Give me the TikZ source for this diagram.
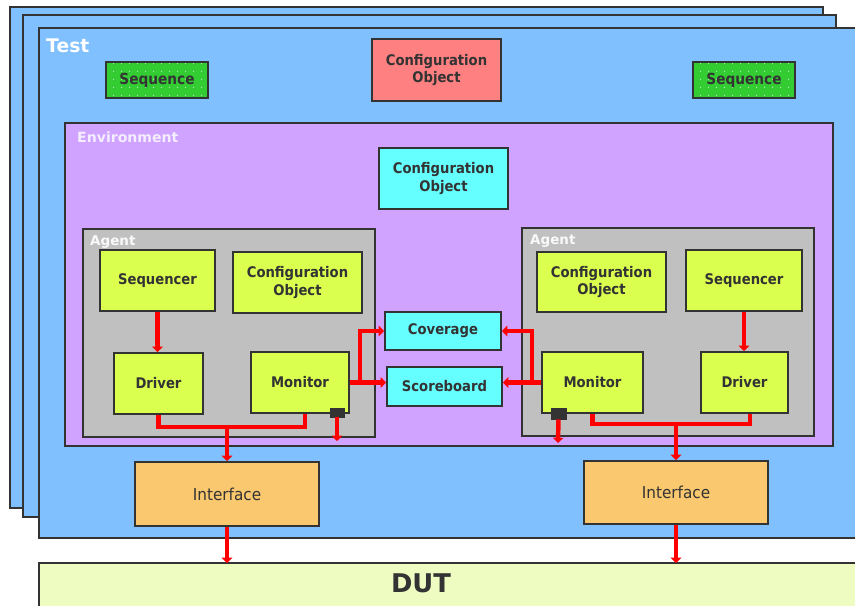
\documentclass[tikz,border=0pt]{standalone}
\usepackage{fontspec}
\setmainfont{DejaVu Sans}
\newfontfamily\labelfont{DejaVu Sans}[FakeStretch=0.9]
\newfontfamily\ifacefont{DejaVu Sans}[FakeStretch=0.93]
\usetikzlibrary{arrows.meta,patterns.meta}

\definecolor{testblue}{HTML}{80C0FF}
\definecolor{envpurple}{HTML}{CFA3FF}
\definecolor{agentgray}{HTML}{C0C0C0}
\definecolor{limefill}{HTML}{DAFF4F}
\definecolor{cyanfill}{HTML}{66FFFF}
\definecolor{cfgred}{HTML}{FF8080}
\definecolor{seqgreen}{HTML}{33CC33}
\definecolor{ifaceorange}{HTML}{F9C86F}
\definecolor{dutfill}{HTML}{EEFCC2}
\definecolor{edge}{HTML}{333333}
\definecolor{wire}{HTML}{FF0000}
\definecolor{lighttext}{HTML}{F4EEFF}

\begin{document}
\begin{tikzpicture}[x=0.03cm, y=-0.03cm,
  frame/.style={draw=edge, line width=1.7pt},
  % box given by its left, top, right and bottom edges
  spanbox/.style n args={4}{minimum width={(#3-#1)*0.03cm},
    minimum height={(#4-#2)*0.03cm}, at={({(#1+#3)/2},{(#2+#4)/2})}},
  block/.style={draw=edge, line width=1.7pt, inner sep=0pt, text=edge,
    font=\labelfont\bfseries\fontsize{12.5}{15}\selectfont, align=center},
  lime/.style={block, fill=limefill},
  cyanbox/.style={block, fill=cyanfill},
  redbox/.style={block, fill=cfgred},
  seqbox/.style={block, preaction={fill=seqgreen},
    preaction={pattern={Dots[distance=6.5pt, radius=0.5pt]}, pattern color=white!90!seqgreen},
    font=\labelfont\bfseries\fontsize{13}{15}\selectfont},
  iface/.style={block, fill=ifaceorange, font=\ifacefont\fontsize{14}{16}\selectfont},
  stub/.style={draw=edge, fill=edge, inner sep=0pt, line width=0.6pt},
  title/.style={inner sep=0pt, anchor=base west, font=\bfseries},
  conn/.style={draw=wire, line width=3.8pt},
  arr/.style={conn, -{Triangle[length=4.5pt, width=9pt]}}
]
\useasboundingbox (0,0) rectangle (855,605);
\clip (0,0) rectangle (855,605);

% stacked test frames
\draw[frame, fill=testblue] (10,7) rectangle (823,508);
\draw[frame, fill=testblue] (23,15) rectangle (836,517);
\draw[frame, fill=testblue] (39,28) rectangle (880,538);
\node[title, text=white, font=\bfseries\fontsize{16}{18}\selectfont] (testlbl) at (46,52) {Test};

% test-level objects
\node[seqbox, spanbox={106}{62}{208}{98}] (seqA) {Sequence};
\node[seqbox, spanbox={693}{62}{795}{98}] (seqB) {Sequence};
\node[redbox, spanbox={372}{39}{501}{101}] (cfgTop) {Configuration\\Object};

% environment
\draw[frame, fill=envpurple] (65,123) rectangle (833,446);
\node[title, text=lighttext, font=\bfseries\fontsize{12}{14}\selectfont] (envlbl) at (77,142) {Environment};
\node[cyanbox, spanbox={379}{148}{508}{209}] (cfgEnv) {Configuration\\Object};

% left agent
\draw[frame, line width=1.4pt, fill=agentgray] (83,229) rectangle (375,437);
\node[title, text=white!95!gray, font=\bfseries\fontsize{11.5}{14}\selectfont] (agLlbl) at (90,245) {Agent};
\node[lime, spanbox={100}{250}{215}{311}] (seqL) {Sequencer};
\node[lime, spanbox={233}{252}{362}{313}] (cfgL) {Configuration\\Object};
\node[lime, spanbox={114}{353}{203}{414}] (drvL) {Driver};
\node[lime, spanbox={251}{352}{349}{413}] (monL) {Monitor};
\node[stub, spanbox={330}{408}{344}{417}] (sqL) {};

% right agent
\draw[frame, line width=1.4pt, fill=agentgray] (522,228) rectangle (814,436);
\node[title, text=white!95!gray, font=\bfseries\fontsize{11.5}{14}\selectfont] (agRlbl) at (530,244) {Agent};
\node[lime, spanbox={537}{252}{666}{312}] (cfgR) {Configuration\\Object};
\node[lime, spanbox={686}{250}{802}{311}] (seqR) {Sequencer};
\node[lime, spanbox={542}{352}{643}{413}] (monR) {Monitor};
\node[lime, spanbox={701}{352}{788}{413}] (drvR) {Driver};
\node[stub, spanbox={551}{408}{566}{419}] (sqR) {};

% analysis components
\node[cyanbox, spanbox={385}{312}{501}{350}] (cov) {Coverage};
\node[cyanbox, spanbox={387}{367}{502}{406}] (sb) {Scoreboard};

% interfaces
\node[iface, spanbox={135}{462}{319}{526}] (ifL) {Interface};
\node[iface, spanbox={584}{461}{768}{524}] (ifR) {Interface};

% design under test
\draw[frame, fill=dutfill] (39,563) rectangle (880,640);
\coordinate (dutTop) at (0,563);
\node[inner sep=0pt, text=edge, font=\bfseries\fontsize{22}{24}\selectfont] (dutlbl) at (421,583) {DUT};

% left agent wiring
\coordinate (busL) at (227,427);
\draw[arr] (seqL.south) -- (seqL.south |- drvL.north);
\draw[conn] (drvL.south) |- ([xshift={5*0.03cm}]monL.south |- busL) -- ([xshift={5*0.03cm}]monL.south);
\draw[arr] (busL) -- (busL |- ifL.north);
\coordinate (sqLend) at (337,441);
\draw[arr] (sqL.south) -- (sqLend);
\coordinate (jL) at (360,383);
\draw[arr] (monL.east) -- (monL.east -| sb.west);
\draw[arr] (jL) |- (cov.west);

% right agent wiring
\coordinate (busR) at (676,424);
\draw[arr] (seqR.south) -- (seqR.south |- drvR.north);
\draw[conn] (monR.south) |- ([xshift={5.5*0.03cm}]drvR.south |- busR) -- ([xshift={5.5*0.03cm}]drvR.south);
\draw[arr] (busR) -- (busR |- ifR.north);
\coordinate (sqRend) at (558,443);
\draw[arr] (sqR.south) -- (sqRend);
\coordinate (jR) at (532,383);
\draw[arr] (monR.west) -- (monR.west -| sb.east);
\draw[arr] (jR) |- (cov.east);

% interfaces to DUT
\draw[arr] (ifL.south) -- (ifL.south |- dutTop);
\draw[arr] (ifR.south) -- (ifR.south |- dutTop);
\end{tikzpicture}
\end{document}
